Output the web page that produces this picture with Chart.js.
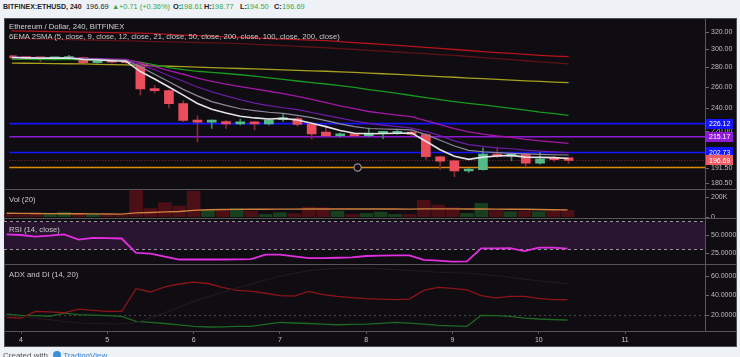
<!DOCTYPE html>
<html><head><meta charset="utf-8">
<script src="https://cdn.jsdelivr.net/npm/chart.js@4.4.0/dist/chart.umd.min.js"></script>
<style>
html,body{margin:0;padding:0;width:740px;height:357px;overflow:hidden;background:#eef1f5;font-family:"Liberation Sans",Arial,sans-serif;}
.h{position:absolute;top:2px;font-size:7.4px;line-height:10px;white-space:nowrap;color:#222;}
.b{font-weight:bold;}
.t{font-size:7px;}
.g{color:#36a94a;}
#dark{position:absolute;left:4px;top:18px;width:733px;height:329px;background:#100d12;box-shadow:inset 0 0 0 1px #4e4e53;}
canvas{position:absolute;left:4px;}
.lbl{position:absolute;left:9px;color:#c9c9c9;font-size:7.7px;line-height:9px;white-space:nowrap;}
.sep{position:absolute;left:4px;width:733px;height:1px;background:#55555a;}
#vax{position:absolute;left:705px;top:18px;width:1px;height:313px;background:#55555a;}
#foot{position:absolute;left:3px;top:351px;font-size:8px;line-height:10px;color:#555;white-space:nowrap;}
</style></head>
<body>
<div class="h b t" style="left:3px">BITFINEX:ETHUSD, 240</div>
<div class="h" style="left:86px">196.69</div>
<div class="h g" style="left:112px">▲</div>
<div class="h g" style="left:119px">+0.71 (+0.36%)</div>
<div class="h b" style="left:173px">O:</div><div class="h g" style="left:180px">198.61</div>
<div class="h b" style="left:204px">H:</div><div class="h g" style="left:211px">198.77</div>
<div class="h b" style="left:240px">L:</div><div class="h g" style="left:246px">194.50</div>
<div class="h b" style="left:274px">C:</div><div class="h g" style="left:282px">196.69</div>

<div id="dark"></div>
<canvas id="cMain" width="733" height="171" style="top:18px"></canvas>
<canvas id="cVol" width="733" height="29" style="top:189px"></canvas>
<canvas id="cRsi" width="733" height="46" style="top:218px"></canvas>
<canvas id="cAdx" width="733" height="83" style="top:264px"></canvas>
<div class="sep" style="top:189px"></div>
<div class="sep" style="top:218px"></div>
<div class="sep" style="top:264px"></div>
<div class="sep" style="top:331px"></div>
<div id="vax"></div>

<div class="lbl" style="top:22px;color:#d2d2d2">Ethereum / Dollar, 240, BITFINEX</div>
<div class="lbl" style="top:32px">6EMA 2SMA (5, close, 9, close, 12, close, 21, close, 50, close, 200, close, 100, close, 200, close)</div>
<div class="lbl" style="top:195px">Vol (20)</div>
<div class="lbl" style="top:225px">RSI (14, close)</div>
<div class="lbl" style="top:270px">ADX and DI (14, 20)</div>
<div id="foot">Created with <span style="display:inline-block;width:8px;height:8px;border-radius:50%;background:#3a8fd9;vertical-align:-1px;margin-left:3px"></span> <span style="color:#3a7fcf">TradingView</span></div>

<script>
// ---------- data ----------
const times = ['3 20:00','4 00:00','4 04:00','4 08:00','4 12:00','4 16:00','4 20:00',
  '5 00:00','5 04:00','5 08:00','5 12:00','5 16:00','5 20:00',
  '6 00:00','6 04:00','6 08:00','6 12:00','6 16:00','6 20:00',
  '7 00:00','7 04:00','7 08:00','7 12:00','7 16:00','7 20:00',
  '8 00:00','8 04:00','8 08:00','8 12:00','8 16:00','8 20:00',
  '9 00:00','9 04:00','9 08:00','9 12:00','9 16:00','9 20:00',
  '10 00:00','10 04:00','10 08:00'];
const openP  = [292.5,291,289.5,289,289.5,290.5,285,287,285.5,284,258,256.3,244,229,227.5,228,226,227,226,229.5,230.5,225.5,219,216,217.5,216,218,218,219,217,199.5,196.5,189,190,201.5,200,201.3,194.7,198,198.61];
const highP  = [293,291.5,290.5,290.5,293,291,288,288,287,285,261.5,257,246.5,233,229.5,229,230,228,230,234.5,232,226,224.5,218.5,218,222.3,219.5,221,220,218,200,197,190.7,206.3,207,202,202,202.7,200,198.77];
const lowP   = [289,288.5,286,288,288.5,283.8,284,284.5,284,252,254,240,228,211,222,222,225,220.8,225,228,224,213.5,215,215,215,215.5,213.6,217,216,197.5,190,185,188,189.5,199,196.5,192,194,196,194.5];
const closeP = [290,289.5,289,290,290.5,285,287,285.5,285,258,256.3,244,229,227.5,228,226,227,226,229.5,231,225.5,217.5,216,217.5,216,218.2,219,219,217,199.5,196.2,189,190,201.5,200,201.3,194.7,197.8,197.3,196.69];

const ema5  = [290.5,290.2,289.8,289.9,290.1,288.4,287.9,287.1,286.4,275.5,267.9,259.8,252,244.1,238.9,235.5,232.6,231.1,230.2,230.7,229.3,226.4,223.6,220.4,218.1,217.7,217.8,218.1,218.2,211.5,204.8,199.8,197.5,199.2,200,200.5,199.2,199,198.8,198.2];
const ema9  = [290.8,290.5,290.2,290.1,290.1,289.1,288.7,288.1,287.5,280.6,272.7,265,257.5,251.2,245.8,242.3,239.3,237.6,236.1,235.1,233.4,231.3,228.8,226,223.6,222,221.6,221.2,220.8,216.9,212.3,207.8,204.3,203.3,202.6,202.1,201.7,201.3,201,200.8];
const ema12 = [290.9,290.7,290.4,290.3,290.3,289.5,289.1,288.6,288.1,282.6,277.6,271.2,265.5,259.8,255.2,251.2,247.6,244.5,242.1,240.2,238.5,235.9,233.4,230.9,228.4,226.4,224.8,223.6,222.4,219.6,216.1,211.9,208.9,207.4,206.3,205.6,204.5,203.8,203.2,202.7];
const ema21 = [290.5,290.3,290.1,290,290,289.5,289.2,288.9,288.5,284.7,280.6,276.6,272.7,268.8,265.5,262.7,260.3,258,255.7,253.4,250.7,248,244.9,241.9,239.3,236.8,235.1,233.6,232.2,228.8,225.2,222,219.2,217.3,215.8,214.6,213.1,211.9,210.8,209.8];
const ema50 = [288.6,288.5,288.4,288.4,288.3,288.2,288.1,287.9,287.7,285.5,282.5,279.6,277.6,275.8,274.7,273.5,272.2,270.8,269,267.4,265.8,264.2,262.8,261.2,259.4,257.3,255.5,253.6,251.6,249.5,247.6,245.8,244.2,242.8,241.3,239.7,238,236.3,234.9,233.4];
const ema200 = [321.5,321.1,320.9,320.5,320.3,319.9,319.7,319.4,319.1,318.7,318,317.2,316.4,315.6,315,314.3,313.6,313,312.3,311.6,311,310.3,309.7,308.6,307.5,306.4,305.3,304.2,303.1,302,300.7,299.5,298.4,297.2,296.1,295.1,294,293,292.2,291.6];
const sma100 = [284.5,284.3,284.1,284,283.8,283.6,283.2,282.8,282.5,282.1,281.6,281.1,280.6,280.1,279.6,279.2,278.7,278.3,277.8,277.3,276.8,276.3,275.8,275.1,274.6,273.9,273.2,272.5,271.7,271,270.3,269.6,268.8,268.2,267.4,266.7,266,265.4,264.7,264.1];
const sma200 = [312.4,312.1,311.6,311.3,311,310.5,310.2,309.8,309.4,309.1,308.7,308.3,308,307.6,307.2,306.8,306.3,305.5,304.7,303.9,303.1,302.4,301.5,300.5,299.5,298.6,297.6,296.7,295.7,294.8,293.8,292.9,291.7,290.5,289.4,288.2,287,285.9,284.8,283.6];

const volume = [20000,20000,30000,33000,46000,30000,23000,17000,17000,263000,83000,140000,106000,256000,63000,73000,83000,56000,23000,40000,30000,96000,90000,56000,23000,33000,46000,23000,23000,163000,116000,90000,33000,133000,63000,50000,56000,50000,56000,63000];
const volMA  = [34000,33000,32000,31000,30000,29000,28000,27000,26000,38000,42000,48000,52000,63000,70000,72000,73000,74000,75000,76000,76000,77000,77000,77000,77000,77000,77000,77000,76000,78000,78000,78000,77000,77000,76000,75000,74000,72000,70000,68000];

const rsi = [51,50,47.6,49,51,43.5,46,45.5,45,24.4,23.5,19,15,15,15,15,15.2,15.5,22,22,19.5,17,17,17.5,18,20,20.5,21,21,14.5,13.5,12,12.3,31,31,31.3,27,32,32,30.5];

const diMinus = [17.3,16.6,23.5,23,22,25.8,24.5,23.5,23.5,46.7,43.3,48.5,51.5,53.5,52,48,45,44.2,42,39.5,39,44,40.5,38.8,37.5,36.4,36,35.4,36,45,48,47,45.5,39.5,37.2,38.9,38.8,36.8,35.5,35.4];
const diPlus  = [20.7,19.4,19,18.4,21.7,20,19.5,19,18.4,13.2,12.2,11,9.5,8.1,7.4,7.6,8.1,8,10,12.2,11.5,11,10.3,9.7,10,10.4,11.2,12.2,11.3,10.4,9.1,8.5,8.1,19.4,19,18.4,16.6,15.6,15,14.6];
const adx     = [19,18,16.5,15,13,11.5,11,10.8,10.5,12,16.6,22,28,33.7,38.5,43,47.4,51.5,55.5,59.4,62.5,65,66.5,67.5,68,67.8,67,66.2,65.5,64.5,63.5,63,62.8,61.5,60,58.4,56.5,54.8,53.2,51.8];

const priceTicks = [320,300,280,260,240,220,191.5,180.5];
const levelValues = [226.12,215.17,202.73,191.5];
const lastPrice = 196.69;
const markerTime = '7 20:53';
const markerPrice = 191.5;
const volTicks = [200000,0];
const rsiTicks = [50,25];
const rsiBands = [30,70];
const adxTicks = [60,40,20];
const adxLevel = 20;
const dayTicks = [4,5,6,7,8,9,10,11];

// ---------- styles ----------
const levelColors = ['#1414ff','#8e1ad6','#1414ff','#e08a0a'];
const levelBoxes  = [true,true,true,false];
const UP='#53b987', DOWN='#eb4d5c', UPW='#3f8a64', DOWNW='#862a33';
const X_MIN=3.803, X_MAX=11.926;
const FONT='7px "Liberation Sans", Arial, sans-serif';

const tx = s => { const [d,hm]=s.split(' '); const [h,m]=hm.split(':'); return +d + (+h)/24 + (+m)/1440; };
const T = times.map(tx);
const isUp = closeP.map((c,i)=>c>=openP[i]);

function rightAxis(ticks, fmt){
  return {id:'rightAxis', afterDraw(ch){
    const c=ch.ctx,a=ch.chartArea,s=ch.scales.y;
    c.save(); c.font=FONT; c.textBaseline='middle'; c.textAlign='left';
    for(const v of ticks){
      const y=Math.round(s.getPixelForValue(v));
      c.fillStyle='#6a6a70'; c.fillRect(a.right+1,y,3,1);
      c.fillStyle='#bdbdbd'; c.fillText(fmt(v), a.right+6, y+0.5);
    }
    c.restore();
  }};
}
function baseOpts(y, xVisible){
  return {
    responsive:false, animation:false, devicePixelRatio:1,
    layout:{padding:{left:0,right:32,top:0,bottom:0}},
    plugins:{legend:{display:false}, tooltip:{enabled:false}},
    scales:{
      x: xVisible ? {
        type:'linear', min:X_MIN, max:X_MAX, offset:false,
        afterBuildTicks:s=>{ s.ticks = dayTicks.map(v=>({value:v})); },
        afterFit:s=>{ s.height=16; },
        grid:{display:true, drawOnChartArea:false, drawTicks:true, tickLength:3, color:'#5a5a60'},
        border:{display:false},
        ticks:{color:'#c4c4c4', font:{size:7, family:'"Liberation Sans", Arial'}, padding:2, maxRotation:0, autoSkip:false, callback:v=>String(v)}
      } : {type:'linear', min:X_MIN, max:X_MAX, offset:false, display:false},
      y: Object.assign({display:false}, y)
    }
  };
}
const line = (data, color, w, order) => ({type:'line', data:data.map((v,i)=>({x:T[i], y:v})), borderColor:color, borderWidth:w, pointRadius:0, tension:0, order});

// ---------- main price pane ----------
const mainPlugins = [
  {id:'levels', beforeDatasetsDraw(ch){
    const c=ch.ctx,a=ch.chartArea,s=ch.scales.y; c.save();
    const yl=Math.round(s.getPixelForValue(lastPrice))+0.5;
    c.strokeStyle='#8a2c35'; c.lineWidth=1; c.setLineDash([1,2]);
    c.beginPath(); c.moveTo(a.left,yl); c.lineTo(a.right,yl); c.stroke();
    c.setLineDash([]); c.lineWidth=1.6;
    levelValues.forEach((v,i)=>{ const y=s.getPixelForValue(v); c.strokeStyle=levelColors[i];
      c.beginPath(); c.moveTo(a.left,y); c.lineTo(a.right,y); c.stroke(); });
    c.restore();
  }},
  rightAxis(priceTicks, v=>v.toFixed(2)),
  {id:'boxes', afterDraw(ch){
    const c=ch.ctx,a=ch.chartArea,s=ch.scales.y; c.save(); c.font=FONT; c.textBaseline='middle';
    const box=(v,col)=>{ const y=s.getPixelForValue(v); c.fillStyle=col; c.fillRect(a.right+1,Math.round(y)-5,27,10);
      c.fillStyle='#ffffff'; c.fillText(v.toFixed(2), a.right+4, y+0.5); };
    levelValues.forEach((v,i)=>{ if(levelBoxes[i]) box(v, levelColors[i]); });
    box(lastPrice,'#ec5a66');
    c.restore();
  }}
];
new Chart(document.getElementById('cMain'), {
  type:'bar',
  data:{datasets:[
    {type:'line', data:[{x:tx(markerTime), y:markerPrice}], showLine:false, pointRadius:3.6, pointBorderWidth:1.3, pointBorderColor:'#8f8f95', pointBackgroundColor:'#100d12', order:0},
    line(ema5,'#e4e4e8',1.6,1),
    line(ema9,'#8d8a9d',1.2,1),
    line(ema12,'#6d1ca8',1.2,1),
    line(ema21,'#a416a8',1.3,1),
    line(ema50,'#169a1c',1.3,1),
    line(sma100,'#a6a01e',1.3,1),
    line(ema200,'#b4141c',1.3,1),
    line(sma200,'#5e1117',1.3,1),
    {type:'bar', data:T.map((t,i)=>({x:t, y:[openP[i], closeP[i]]})), backgroundColor:isUp.map(u=>u?UP:DOWN), barThickness:9, minBarLength:2, grouped:false, borderWidth:0, order:2},
    {type:'bar', data:T.map((t,i)=>({x:t, y:[lowP[i], highP[i]]})), backgroundColor:isUp.map(u=>u?UPW:DOWNW), barThickness:1, grouped:false, borderWidth:0, order:3}
  ]},
  options: baseOpts({type:'logarithmic', min:180.1, max:330.8}, false),
  plugins: mainPlugins
});

// ---------- volume pane ----------
new Chart(document.getElementById('cVol'), {
  type:'bar',
  data:{datasets:[
    line(volMA,'#cf803c',1.4,0),
    {type:'bar', data:T.map((t,i)=>({x:t, y:volume[i]})), backgroundColor:isUp.map(u=>u?'#183f1e':'#4b0f15'), barThickness:13, grouped:false, borderWidth:0, order:1}
  ]},
  options: baseOpts({type:'linear', min:-13000, max:277000}, false),
  plugins:[rightAxis(volTicks, v=> v===0 ? '0' : (v/1000)+'K')]
});

// ---------- RSI pane ----------
new Chart(document.getElementById('cRsi'), {
  type:'line',
  data:{datasets:[ line(rsi,'#e22fe2',1.8,0) ]},
  options: baseOpts({type:'linear', min:8.6, max:74.3}, false),
  plugins:[
    {id:'band', beforeDatasetsDraw(ch){
      const c=ch.ctx,a=ch.chartArea,s=ch.scales.y;
      const yTop=Math.round(s.getPixelForValue(rsiBands[1]))+0.5, yBot=Math.round(s.getPixelForValue(rsiBands[0]))+0.5;
      c.save(); c.fillStyle='#29152f'; c.fillRect(a.left,yTop,a.right-a.left,yBot-yTop);
      c.strokeStyle='#96969c'; c.lineWidth=1; c.setLineDash([3,3]);
      [yTop,yBot].forEach(y=>{ c.beginPath(); c.moveTo(a.left,y); c.lineTo(a.right,y); c.stroke(); });
      c.restore();
    }},
    rightAxis(rsiTicks, v=>v.toFixed(4))
  ]
});

// ---------- ADX pane ----------
new Chart(document.getElementById('cAdx'), {
  type:'line',
  data:{datasets:[
    line(adx,'#221a1f',1.1,0),
    line(diMinus,'#8e1418',1.3,0),
    line(diPlus,'#1c6a22',1.3,0)
  ]},
  options: baseOpts({type:'linear', min:3.3, max:72}, true),
  plugins:[
    {id:'lvl', beforeDatasetsDraw(ch){
      const c=ch.ctx,a=ch.chartArea,s=ch.scales.y; const y=Math.round(s.getPixelForValue(adxLevel))+0.5;
      c.save(); c.strokeStyle='#45454a'; c.lineWidth=1; c.setLineDash([2,3]);
      c.beginPath(); c.moveTo(a.left,y); c.lineTo(a.right,y); c.stroke(); c.restore();
    }},
    rightAxis(adxTicks, v=>v.toFixed(4))
  ]
});
</script>
</body></html>
